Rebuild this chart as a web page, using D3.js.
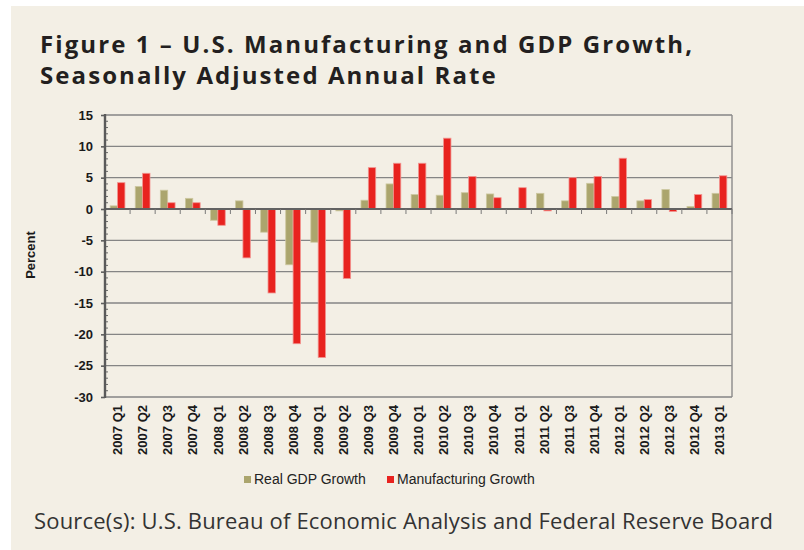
<!DOCTYPE html>
<html>
<head>
<meta charset="utf-8">
<script src="https://cdn.jsdelivr.net/npm/d3@7"></script>
<style>
  html, body { margin: 0; padding: 0; background: #ffffff; }
  svg { display: block; }
</style>
</head>
<body>
<svg id="chart" width="804" height="550"></svg>
<script>
// ---- Data ----
const categories = [
  "2007 Q1","2007 Q2","2007 Q3","2007 Q4",
  "2008 Q1","2008 Q2","2008 Q3","2008 Q4",
  "2009 Q1","2009 Q2","2009 Q3","2009 Q4",
  "2010 Q1","2010 Q2","2010 Q3","2010 Q4",
  "2011 Q1","2011 Q2","2011 Q3","2011 Q4",
  "2012 Q1","2012 Q2","2012 Q3","2012 Q4",
  "2013 Q1"
];
const gdpGrowth = [
  0.5, 3.6, 3.0, 1.7,
  -1.8, 1.3, -3.7, -8.9,
  -5.3, -0.3, 1.4, 4.0,
  2.3, 2.2, 2.6, 2.4,
  0.1, 2.5, 1.3, 4.1,
  2.0, 1.3, 3.1, 0.4,
  2.5
];
const mfgGrowth = [
  4.2, 5.7, 1.0, 1.0,
  -2.6, -7.8, -13.4, -21.5,
  -23.7, -11.1, 6.6, 7.3,
  7.3, 11.3, 5.2, 1.8,
  3.4, -0.3, 5.0, 5.2,
  8.1, 1.5, -0.4, 2.3,
  5.3
];
const seriesNames = ["Real GDP Growth", "Manufacturing Growth"];
const seriesColors = ["#aba56d", "#e8231f"];
const seriesStrokes = ["#cdc8a0", "#f29490"];
const yTicks = [15, 10, 5, 0, -5, -10, -15, -20, -25, -30];
const titleLines = ["Figure 1 \u2013 U.S. Manufacturing and GDP Growth,", "Seasonally Adjusted Annual Rate"];
const sourceText = "Source(s): U.S. Bureau of Economic Analysis and Federal Reserve Board";
const yAxisTitle = "Percent";

// ---- Layout ----
const svg = d3.select("#chart");
const W = 804, H = 550;
const plot = { left: 105, right: 732, top: 115, bottom: 397 };

// background panel
svg.append("rect").attr("x", 0).attr("y", 0).attr("width", W).attr("height", H).attr("fill", "#ffffff");
svg.append("rect").attr("x", 11).attr("y", 6).attr("width", W - 11).attr("height", H - 6).attr("fill", "#f3efe5");

// Title
const titleG = svg.append("g");
const titleTexts = titleLines.map((t, i) =>
  titleG.append("text")
    .attr("x", 40).attr("y", 53 + i * 31)
    .attr("font-family", "'Open Sans', 'DejaVu Sans', sans-serif")
    .attr("font-weight", 700)
    .attr("font-size", 24)
    .attr("fill", "#231f20")
    .text(t)
);
{
  const w1 = titleTexts[0].node().getComputedTextLength();
  const n0 = titleTexts[0].node().getNumberOfChars();
  const ls = Math.max(-0.5, Math.min(3, (652 - w1) / (n0 - 1)));
  titleTexts.forEach(t => t.attr("letter-spacing", ls.toFixed(3)));
}

// Source
const src = svg.append("text")
  .attr("x", 34).attr("y", 529)
  .attr("font-family", "'Open Sans', 'DejaVu Sans', sans-serif")
  .attr("font-weight", 400)
  .attr("font-size", 20)
  .attr("fill", "#333333")
  .text(sourceText);
{
  const w = src.node().getComputedTextLength();
  const fs = Math.max(18, Math.min(22, 20 * 739 / w));
  src.attr("font-size", fs.toFixed(2));
  const w2 = src.node().getComputedTextLength();
  const n = src.node().getNumberOfChars();
  src.attr("letter-spacing", ((739 - w2) / (n - 1)).toFixed(3));
}

// Scales
const y = d3.scaleLinear().domain([-30, 15]).range([plot.bottom, plot.top]);
const x0 = d3.scaleBand().domain(categories).range([plot.left, plot.right]).paddingInner(0).paddingOuter(0);
const keys = ["gdp", "mfg"];
const x1 = d3.scaleBand().domain(keys).range([0, x0.bandwidth()]).paddingInner(0).paddingOuter(0.7);

// Grid lines
const gridG = svg.append("g");
gridG.selectAll("line.grid")
  .data(yTicks.filter(d => d !== 0))
  .join("line")
  .attr("x1", plot.left).attr("x2", plot.right)
  .attr("y1", d => y(d)).attr("y2", d => y(d))
  .attr("stroke", "#858585").attr("stroke-width", 1.4);
// right border
gridG.append("line")
  .attr("x1", plot.right).attr("x2", plot.right)
  .attr("y1", y(15)).attr("y2", y(-30))
  .attr("stroke", "#8a8a8a").attr("stroke-width", 1.4);

// Bars
const rows = categories.map((c, i) => ({ cat: c, gdp: gdpGrowth[i], mfg: mfgGrowth[i] }));
const barsG = svg.append("g");
keys.forEach((k, ki) => {
  barsG.selectAll("rect." + k)
    .data(rows)
    .join("rect")
    .attr("class", k)
    .attr("x", d => x0(d.cat) + x1(k))
    .attr("width", x1.bandwidth())
    .attr("y", d => y(Math.max(0, d[k])))
    .attr("height", d => Math.abs(y(d[k]) - y(0)))
    .attr("fill", seriesColors[ki])
    .attr("stroke", seriesStrokes[ki])
    .attr("stroke-width", 0.8);
});

// Zero line (x axis) with category boundary ticks
svg.append("line")
  .attr("x1", plot.left).attr("x2", plot.right)
  .attr("y1", y(0)).attr("y2", y(0))
  .attr("stroke", "#626262").attr("stroke-width", 2.2);
const boundaries = categories.map(c => x0(c)).concat([plot.right]);
svg.append("g").selectAll("line")
  .data(boundaries.slice(1))
  .join("line")
  .attr("x1", d => d).attr("x2", d => d)
  .attr("y1", y(0)).attr("y2", y(0) + 5)
  .attr("stroke", "#7a7a7a").attr("stroke-width", 1);

// X labels (rotated)
const xAxisG = svg.append("g")
  .attr("transform", `translate(0,${plot.bottom})`)
  .call(d3.axisBottom(x0).tickSize(0).tickPadding(0));
xAxisG.select(".domain").remove();
xAxisG.selectAll(".tick text")
  .attr("font-family", "'Liberation Sans', Arial, sans-serif")
  .attr("font-weight", 700)
  .attr("font-size", 13)
  .attr("fill", "#1a1a1a")
  .attr("text-anchor", "end")
  .attr("transform", "rotate(-90)")
  .attr("x", -8)
  .attr("y", 0)
  .attr("dy", "0.36em");

// Y axis
const yAxisG = svg.append("g")
  .attr("transform", `translate(${plot.left},0)`)
  .call(d3.axisLeft(y).tickValues(yTicks).tickSize(4).tickPadding(8).tickFormat(d => String(d)));
yAxisG.select(".domain").remove();
yAxisG.selectAll(".tick line").attr("stroke", "#5f5f5f").attr("stroke-width", 1.6);
yAxisG.selectAll(".tick text")
  .attr("font-family", "'Liberation Sans', Arial, sans-serif")
  .attr("font-weight", 700)
  .attr("font-size", 13)
  .attr("fill", "#1a1a1a");
// minor ticks (inward)
const minor = d3.range(-30, 16, 1).filter(v => v % 5 !== 0);
svg.append("g").selectAll("line")
  .data(minor)
  .join("line")
  .attr("x1", plot.left).attr("x2", plot.left + 3)
  .attr("y1", d => y(d)).attr("y2", d => y(d))
  .attr("stroke", "#6a6a6a").attr("stroke-width", 1);
// axis line
svg.append("line")
  .attr("x1", plot.left).attr("x2", plot.left)
  .attr("y1", y(15) - 1).attr("y2", y(-30) + 1)
  .attr("stroke", "#5a5a5a").attr("stroke-width", 2.4);

// Y axis title
svg.append("text")
  .attr("transform", `translate(35,255) rotate(-90)`)
  .attr("text-anchor", "middle")
  .attr("font-family", "'Liberation Sans', Arial, sans-serif")
  .attr("font-weight", 700)
  .attr("font-size", 13)
  .attr("fill", "#1a1a1a")
  .text(yAxisTitle);

// Legend
const legendItems = [
  { name: seriesNames[0], color: seriesColors[0], sx: 244 },
  { name: seriesNames[1], color: seriesColors[1], sx: 387 }
];
const legG = svg.append("g");
legendItems.forEach(it => {
  legG.append("rect")
    .attr("x", it.sx).attr("y", 476)
    .attr("width", 7).attr("height", 7)
    .attr("fill", it.color);
  legG.append("text")
    .attr("x", it.sx + 10).attr("y", 484)
    .attr("font-family", "'Liberation Sans', Arial, sans-serif")
    .attr("font-size", 14)
    .attr("fill", "#222222")
    .text(it.name);
});
</script>
</body>
</html>
